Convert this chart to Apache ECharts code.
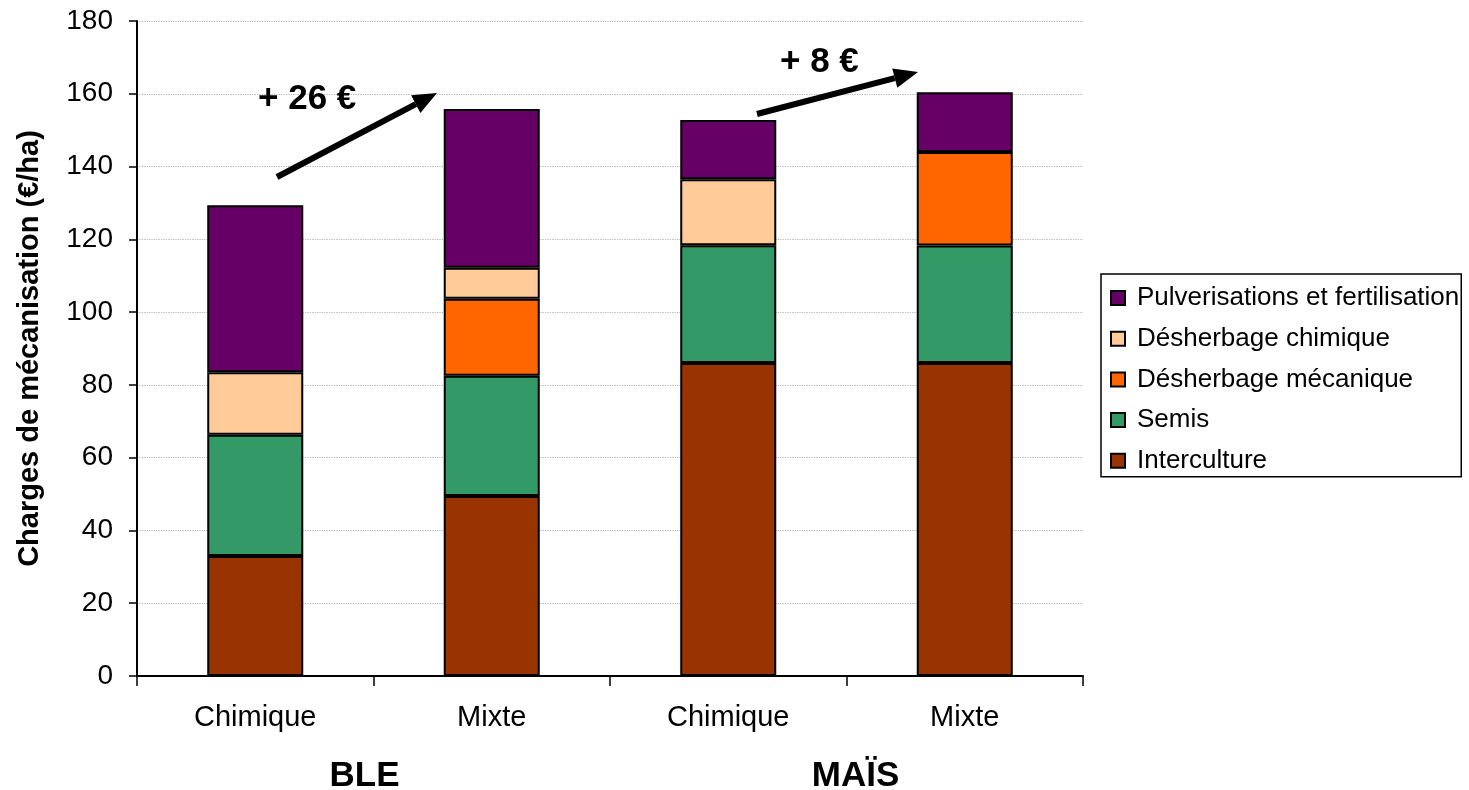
<!DOCTYPE html>
<html>
<head>
<meta charset="utf-8">
<script src="https://cdn.jsdelivr.net/npm/echarts@6/dist/echarts.min.js"></script>
<style>html,body{margin:0;padding:0;background:#fff}#c{width:1469px;height:790px}</style>
</head>
<body>
<div id="c"></div>
<script>
// ---- data ----
const categories = ['Chimique', 'Mixte', 'Chimique', 'Mixte'];
const groups = ['BLE', 'MAÏS'];
const interculture = [33.0, 49.5, 86.0, 86.0];
const semis = [33.3, 33.0, 32.4, 32.3];
const desherbageMeca = [0, 21.2, 0, 25.7];
const desherbageChim = [17.2, 8.5, 18.1, 0];
const pulverisations = [45.9, 43.6, 16.3, 16.4];
const seriesNames = ['Interculture', 'Semis', 'Désherbage mécanique', 'Désherbage chimique', 'Pulverisations et fertilisation'];
const seriesColors = ['#993300', '#339966', '#FF6600', '#FFCC99', '#660066'];
const annotations = ['+ 26 €', '+ 8 €'];

const FONT = '"Liberation Sans", Arial, sans-serif';
const values = [interculture, semis, desherbageMeca, desherbageChim, pulverisations];

function arrow(x1, y1, x2, y2) {
  const dx = x2 - x1, dy = y2 - y1, L = Math.hypot(dx, dy);
  const ux = dx / L, uy = dy / L, nx = -uy, ny = ux;
  const hl = 24, hw = 10;
  const bx = x2 - hl * ux, by = y2 - hl * uy;
  return [
    {type: 'line', shape: {x1: x1, y1: y1, x2: bx, y2: by}, style: {stroke: '#000', lineWidth: 6}, z: 100},
    {type: 'polygon', shape: {points: [[x2, y2], [bx + hw * nx, by + hw * ny], [bx - hw * nx, by - hw * ny]]}, style: {fill: '#000'}, z: 100}
  ];
}

const chart = echarts.init(document.getElementById('c'), null, {renderer: 'canvas'});
chart.setOption({
  animation: false,
  backgroundColor: '#fff',
  textStyle: {fontFamily: FONT},
  grid: {left: 137, top: 21, right: 386, bottom: 114, containLabel: false, outerBoundsMode: 'none'},
  legend: {
    orient: 'vertical',
    left: 1101, top: 274,
    data: seriesNames.slice().reverse(),
    itemWidth: 14, itemHeight: 14,
    itemGap: 14.7,
    padding: [11, 2, 3, 9],
    borderColor: '#000', borderWidth: 1.5,
    icon: 'rect',
    itemStyle: {borderColor: '#000', borderWidth: 2},
    textStyle: {fontSize: 26, color: '#000', fontFamily: FONT, padding: [0, 0, 0, 7]}
  },
  xAxis: [{
    type: 'category',
    data: categories,
    axisLine: {lineStyle: {color: '#000', width: 2}},
    axisTick: {show: true, length: 10, lineStyle: {color: '#000', width: 1.5}},
    axisLabel: {fontSize: 29, color: '#000', margin: 27, fontFamily: FONT}
  }, {
    type: 'category',
    data: groups,
    position: 'bottom',
    axisLine: {show: false},
    axisTick: {show: false},
    splitLine: {show: false},
    axisLabel: {
      margin: 83,
      formatter: (v, i) => i === 0 ? '{a|' + v + '}' : '{b|' + v + '}',
      rich: {
        a: {fontSize: 35, fontWeight: 'bold', color: '#000', fontFamily: FONT, padding: [0, 18, 0, 0]},
        b: {fontSize: 35, fontWeight: 'bold', color: '#000', fontFamily: FONT, padding: [0, 0, 0, 18]}
      }
    }
  }],
  yAxis: {
    type: 'value',
    min: 0, max: 180, interval: 20,
    name: 'Charges de mécanisation (€/ha)',
    nameLocation: 'middle',
    nameGap: 93,
    nameTextStyle: {fontSize: 29, fontWeight: 'bold', color: '#000', fontFamily: FONT},
    axisLine: {show: true, lineStyle: {color: '#000', width: 2}},
    axisTick: {show: true, length: 8, lineStyle: {color: '#000', width: 1.5}},
    axisLabel: {fontSize: 28, color: '#000', margin: 24, fontFamily: FONT},
    splitLine: {show: true, lineStyle: {color: '#b4b4b4', type: 'dotted', width: 1.2}}
  },
  series: seriesNames.map((n, i) => ({
    name: n,
    type: 'bar',
    stack: 'total',
    xAxisIndex: 0,
    barWidth: '40.6%',
    data: values[i].map(v => v === 0 ? null : v),
    itemStyle: {color: seriesColors[i], borderColor: '#000', borderWidth: 2}
  })),
  graphic: [
    ...arrow(277, 177, 437, 93),
    ...arrow(757, 114, 918, 72),
    {type: 'text', left: 258, top: 82, style: {text: annotations[0], font: 'bold 35px ' + FONT, fill: '#000'}, z: 100},
    {type: 'text', left: 780, top: 45, style: {text: annotations[1], font: 'bold 35px ' + FONT, fill: '#000'}, z: 100}
  ]
});
</script>
</body>
</html>
